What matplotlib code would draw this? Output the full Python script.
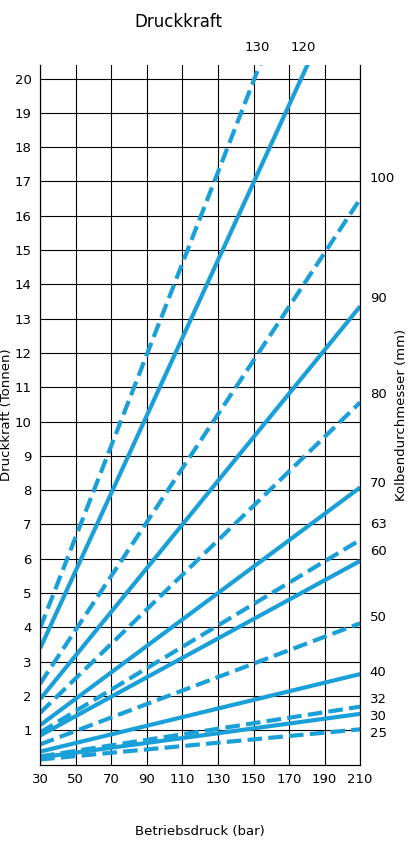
import matplotlib
matplotlib.use("Agg")
import matplotlib.pyplot as plt

diameters = [25, 30, 32, 40, 50, 60, 63, 70, 80, 90, 100, 120, 130]
dashed    = [True, False, True, False, True, False, True, False, True, False, True, False, True]
force_30  = [0.15, 0.21, 0.24, 0.38, 0.59, 0.85, 0.94, 1.15, 1.51, 1.91, 2.36, 3.39, 3.98]
force_210 = [1.03, 1.48, 1.69, 2.64, 4.12, 5.94, 6.55, 8.08, 10.56, 13.36, 16.49, 23.75, 27.9]
label_y   = [0.9, 1.4, 1.9, 2.7, 4.3, 6.2, 7.0, 8.2, 10.8, 13.6, 17.1]
pressures = [30, 210]
xticks = list(range(30, 211, 20))
yticks = list(range(1, 21))

color = "#1aa0d8"
fig = plt.figure(figsize=(4.14, 8.64), dpi=100)
ax = fig.add_axes([0.097, 0.115, 0.773, 0.81])
ax.set_xlim(30, 210)
ax.set_ylim(0, 20.4)
for d, ds, a, b in zip(diameters, dashed, force_30, force_210):
    ax.plot(pressures, [a, b], color=color, lw=3, ls=(0, (3.5, 1.5)) if ds else "-",
            solid_capstyle="butt", clip_on=True)
for d, y in zip(diameters[:11], label_y):
    ax.text(1.03, y, str(d), transform=ax.get_yaxis_transform(), fontsize=9.5, va="center")
for d, x in zip([130, 120], [152, 178]):
    ax.text(x, 20.9, str(d), fontsize=9.5, ha="center", va="center", clip_on=False)
ax.set_xticks(xticks)
ax.set_yticks(yticks)
ax.grid(True, color="black", lw=0.8)
ax.tick_params(length=0, labelsize=9.5, pad=6)
ax.spines["top"].set_visible(False)
ax.set_xlabel("Betriebsdruck (bar)", fontsize=9.5, labelpad=28)
ax.set_ylabel("Druckkraft (Tonnen)", fontsize=9.5)
ax.yaxis.set_label_coords(-0.085, 0.5)
ax2 = ax.twinx()
ax2.set_yticks([])
ax2.set_ylabel("Kolbendurchmesser (mm)", fontsize=9.5)
ax2.yaxis.set_label_coords(1.11, 0.5)
ax2.spines["top"].set_visible(False)
fig.text(0.43, 0.985, "Druckkraft", fontsize=12, ha="center", va="top")
fig.savefig("out.png", dpi=100)
